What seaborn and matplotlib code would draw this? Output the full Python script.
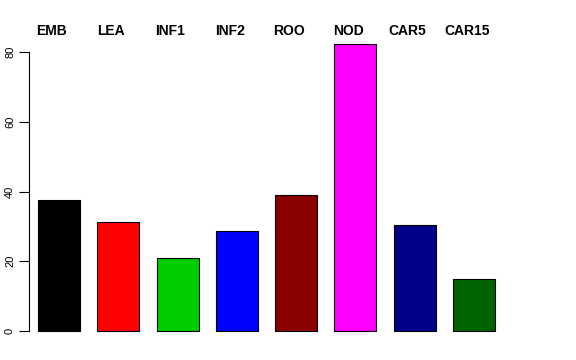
import numpy as np
import pandas as pd
import matplotlib
matplotlib.use("Agg")
import matplotlib.pyplot as plt
import seaborn as sns

categories = ["EMB", "LEA", "INF1", "INF2", "ROO", "NOD", "CAR5", "CAR15"]
values = [37.7, 31.3, 21.0, 28.6, 39.0, 82.4, 30.5, 15.0]
colors = ["#000000", "#FF0000", "#00CD00", "#0000FF", "#8B0000", "#FF00FF", "#00008B", "#006400"]
y_ticks = [0, 20, 40, 60, 80]

df = pd.DataFrame({"tissue": categories, "value": values})

sns.set_theme(style="white")
plt.rcParams["font.family"] = ["Liberation Sans", "DejaVu Sans"]

fig = plt.figure(figsize=(5.76, 3.6), dpi=100)
ax = fig.add_axes([29 / 576, 1 - 342.5 / 360, 474 / 576, 311.4 / 360])

sns.barplot(data=df, x="tissue", y="value", hue="tissue", palette=colors,
            legend=False, width=0.708, edgecolor="black", linewidth=0.8,
            saturation=1, ax=ax)

ax.set_xlim(-0.506, 7.49)
ax.set_ylim(-3.3, 86.0)
ax.set_xlabel("")
ax.set_ylabel("")
ax.set_xticks([])
ax.set_yticks(y_ticks)
ax.set_yticklabels([str(t) for t in y_ticks], rotation=90, va="center", fontsize=8)
ax.tick_params(axis="y", left=True, length=7, width=0.8, color="black", pad=3, labelcolor="black")
for s in ["top", "right", "bottom"]:
    ax.spines[s].set_visible(False)
ax.spines["left"].set_bounds(0, 80)
ax.spines["left"].set_color("black")
ax.spines["left"].set_linewidth(0.8)

# column labels above the plot, slightly left of each bar
label_x = np.arange(len(categories)) - 0.12
for x, name in zip(label_x, categories):
    ax.text(x, 1.0, name, transform=ax.get_xaxis_transform(), ha="center", va="center",
            fontsize=10, fontweight="bold", color="black", clip_on=False)

fig.savefig("out.png", dpi=100)
